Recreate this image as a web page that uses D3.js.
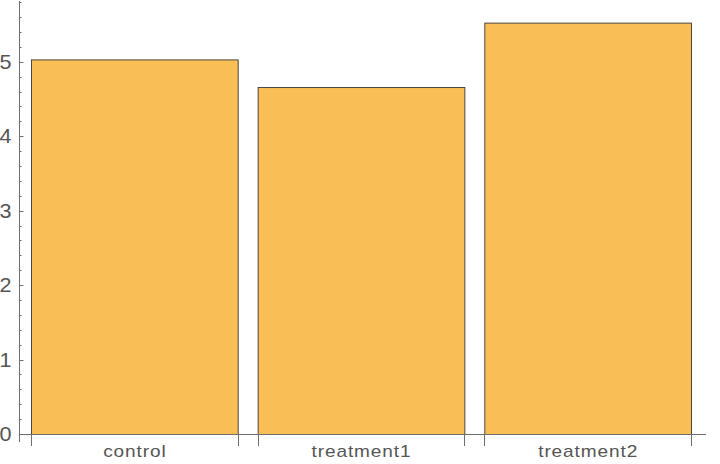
<!DOCTYPE html>
<html><head><meta charset="utf-8">
<script src="https://cdn.jsdelivr.net/npm/d3@7"></script>
<style>body{margin:0;background:#fff}svg{display:block}text{font-family:"Liberation Sans",Arial,sans-serif}</style>
</head><body>
<script>
const categories = ["control", "treatment1", "treatment2"];
const values = [5.032, 4.661, 5.526];
const yTicks = [0, 1, 2, 3, 4, 5];

const W = 720, H = 464;
const svg = d3.select("body").append("svg").attr("width", W).attr("height", H);
const x0 = 19, xEnd = 706, yBase = 434;
const y = d3.scaleLinear().domain([0, 5.83]).range([yBase, 0]);
const x = d3.scaleBand().domain(categories).range([31, 691]).paddingInner(20/227).paddingOuter(0);

// bars
svg.selectAll("rect.bar").data(categories).join("rect")
  .attr("x", d => x(d)+0.5)
  .attr("y", (d,i) => y(values[i])+0.5)
  .attr("width", x.bandwidth())
  .attr("height", (d,i) => yBase - y(values[i]))
  .attr("fill", "#F9BF56")
  .attr("stroke", "#4b4640")
  .attr("stroke-width", 1);

const axisCol = "#6e6e6e";
// y axis
svg.append("line").attr("x1", x0+0.5).attr("x2", x0+0.5).attr("y1", 1).attr("y2", yBase+8)
  .attr("stroke", axisCol);
const minor = d3.range(0, 5.81, 0.2);
svg.selectAll("line.ymin").data(minor).join("line")
  .attr("x1", x0).attr("x2", x0+2.5)
  .attr("y1", d => Math.round(y(d))+0.5).attr("y2", d => Math.round(y(d))+0.5)
  .attr("stroke", axisCol);
svg.selectAll("line.ymaj").data(yTicks).join("line")
  .attr("x1", x0).attr("x2", x0+4.5)
  .attr("y1", d => Math.round(y(d))+0.5).attr("y2", d => Math.round(y(d))+0.5)
  .attr("stroke", axisCol);
svg.selectAll("text.ylab").data(yTicks).join("text")
  .attr("transform", d => `translate(11.5,${y(d)+7}) scale(1.08,1)`)
  .attr("text-anchor", "end").attr("font-size", 20).attr("fill", "#555")
  .text(d => d);

// x axis
svg.append("line").attr("x1", x0).attr("x2", xEnd).attr("y1", yBase+0.5).attr("y2", yBase+0.5)
  .attr("stroke", axisCol);
const edges = [];
categories.forEach(c => { edges.push(x(c)); edges.push(x(c)+x.bandwidth()); });
svg.selectAll("line.xt").data(edges).join("line")
  .attr("x1", d => Math.round(d)+0.5).attr("x2", d => Math.round(d)+0.5)
  .attr("y1", yBase).attr("y2", yBase+12)
  .attr("stroke", axisCol);
svg.selectAll("text.xlab").data(categories).join("text")
  .attr("transform", d => `translate(${x(d)+x.bandwidth()/2 + 0.5},457) scale(1.12,1)`)
  .attr("text-anchor", "middle").attr("font-size", 17).attr("letter-spacing", 0.8).attr("fill", "#555")
  .text(d => d);
</script>
</body></html>
